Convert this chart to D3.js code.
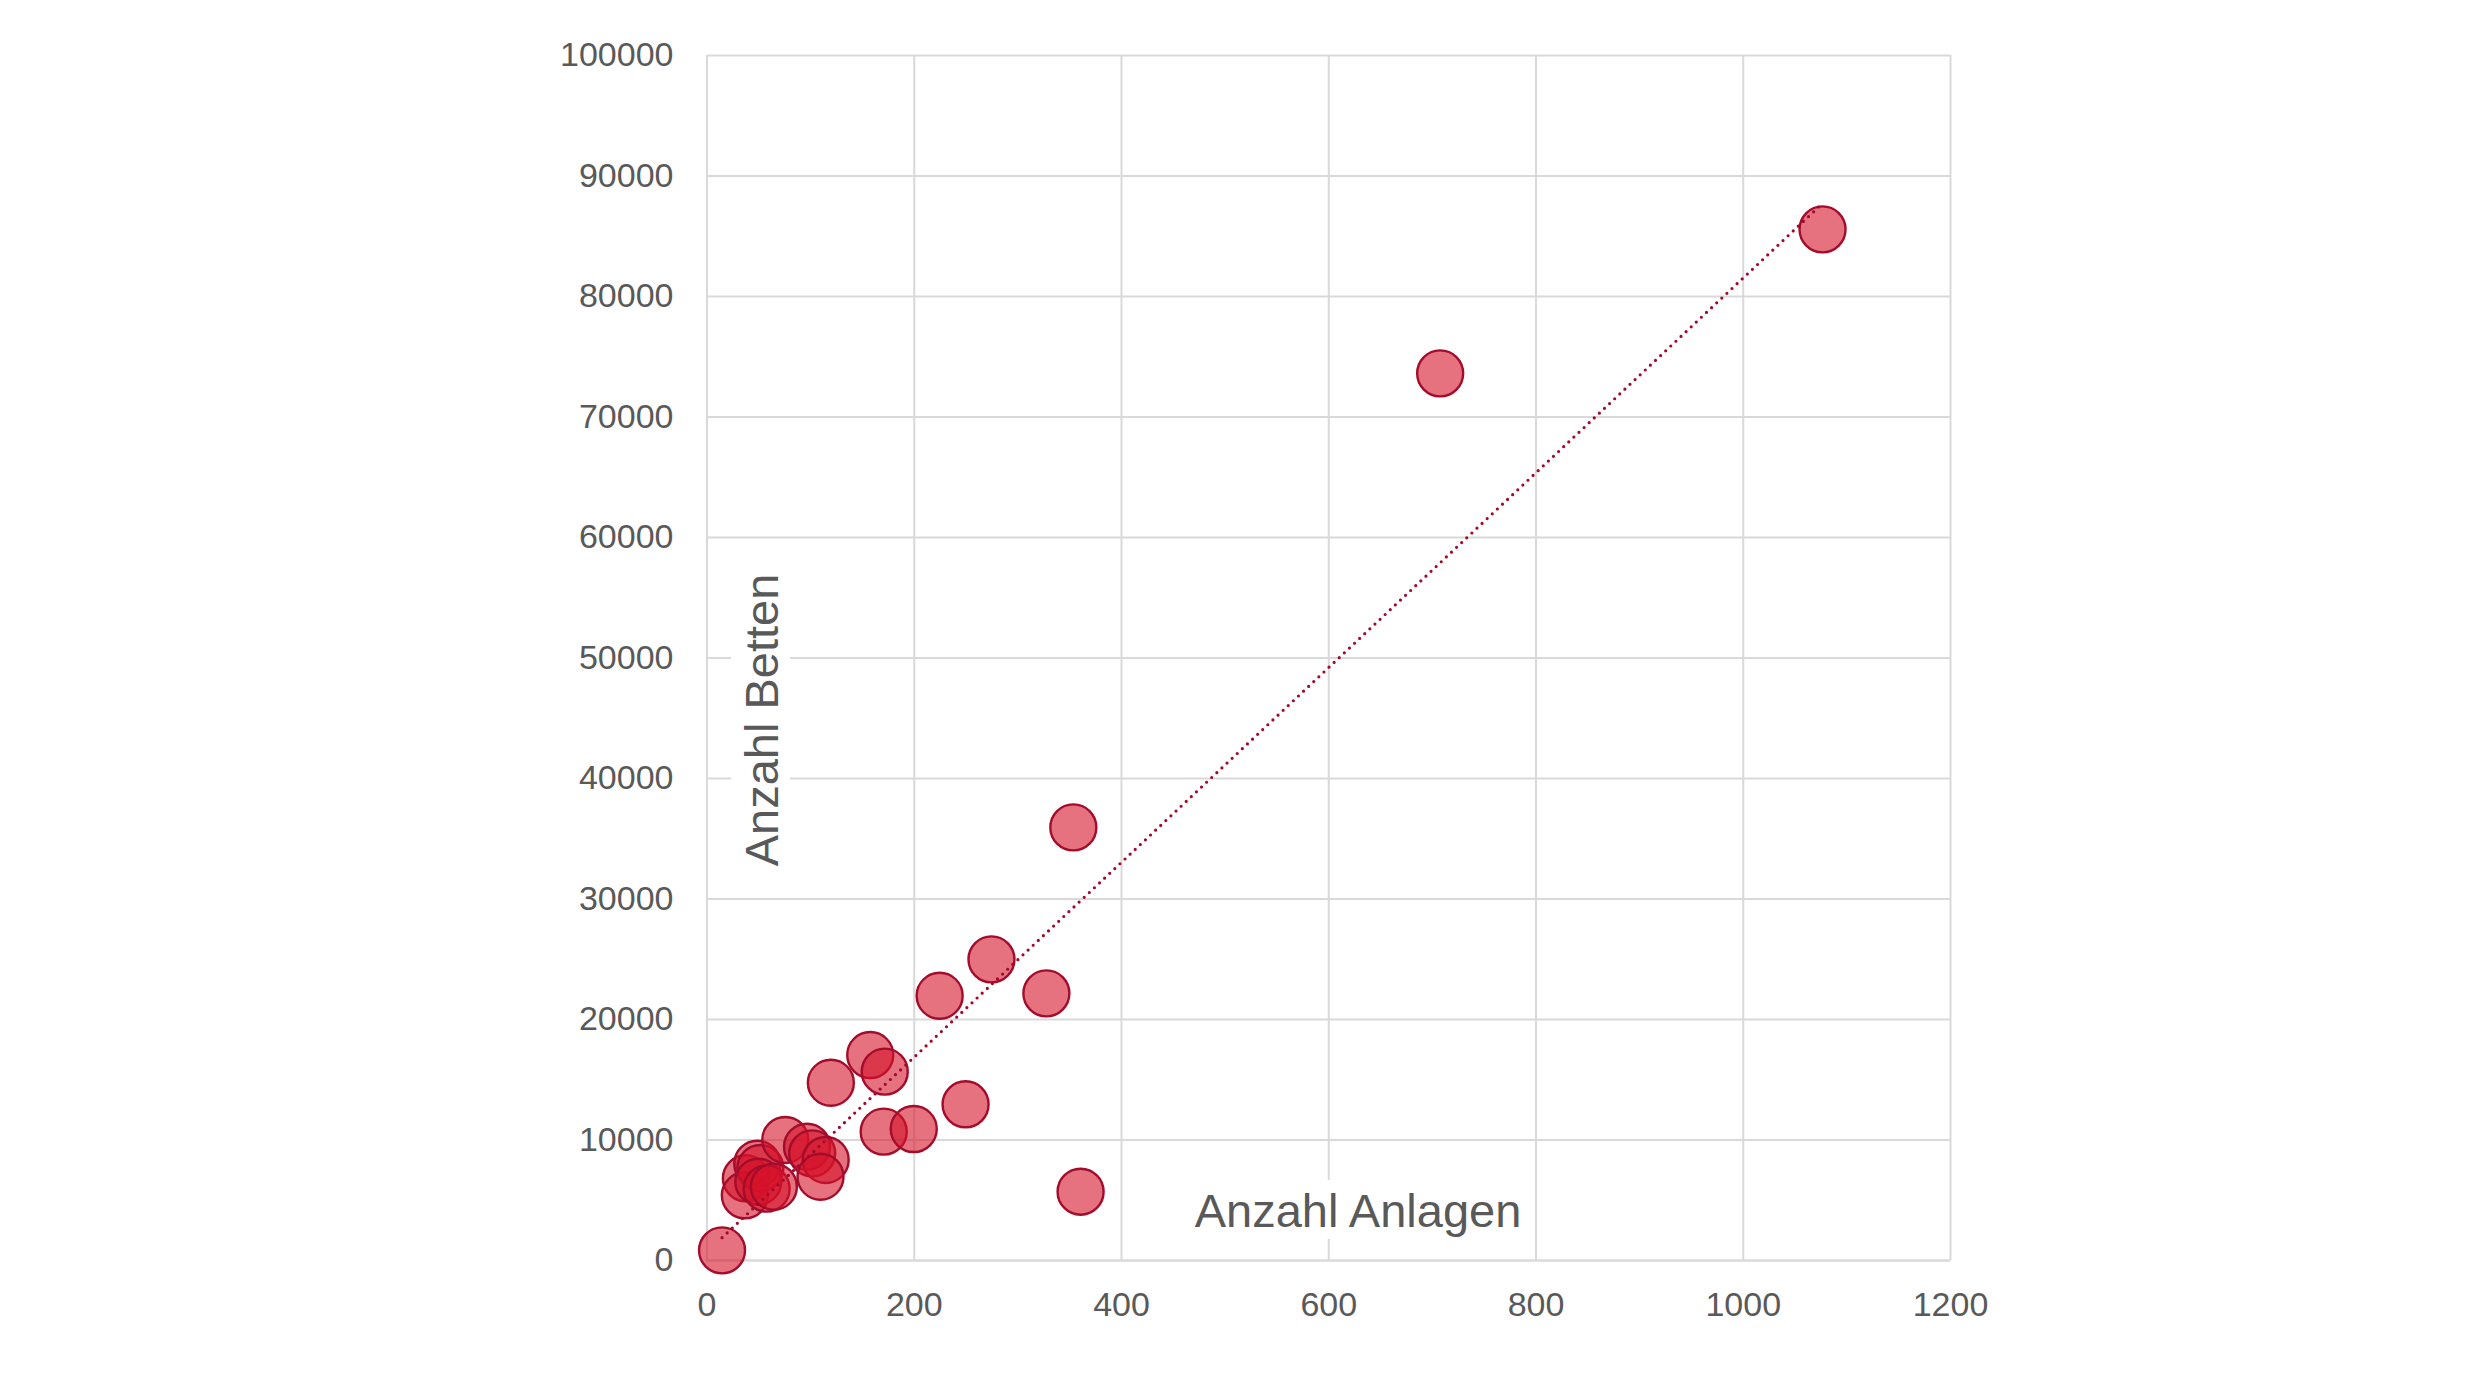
<!DOCTYPE html>
<html>
<head>
<meta charset="utf-8">
<script src="https://cdn.jsdelivr.net/npm/d3@7"></script>
<style>
  body { margin: 0; background: #fff; }
  text { font-family: "Liberation Sans", Arial, sans-serif; }
</style>
</head>
<body>
<svg class="chart_svg"><g class="g_1"></g></svg>
<script>
// Anzahl Anlagen (x) vs Anzahl Betten (y), one value per point
const anlagen = [15, 38, 37, 49, 52, 50, 58, 65, 76, 97, 102, 115, 110, 120, 158, 172, 171, 200, 250, 361, 225, 275, 328, 354, 708, 1077];
const betten = [800, 6780, 5370, 7990, 7630, 6500, 5920, 6080, 9960, 9400, 8850, 8300, 6910, 14710, 17010, 15630, 10650, 10870, 12920, 5670, 21930, 24950, 22130, 35900, 73580, 85530];

const xTicks = [0, 200, 400, 600, 800, 1000, 1200];
const yTicks = [0, 10000, 20000, 30000, 40000, 50000, 60000, 70000, 80000, 90000, 100000];

const xTitle = 'Anzahl Anlagen';
const yTitle = 'Anzahl Betten';

const width = 2480, height = 1395;
const m_left = 706.5, m_right = 1950, m_top = 55, m_bottom = 1260;

var svg = d3.select('.chart_svg')
  .attr('width', width)
  .attr('height', height)
var container = svg.select('.g_1')

var x_scale = d3.scaleLinear().domain([0, 1200]).range([m_left, m_right]);
var y_scale = d3.scaleLinear().domain([0, 100000]).range([m_bottom, m_top]);

// gridlines + tick labels
container.append('g')
  .attr('transform', `translate(0, ${m_bottom})`)
  .call(d3.axisBottom(x_scale).tickValues(xTicks).tickFormat(d3.format('d'))
    .tickSizeInner(-(m_bottom - m_top)).tickSizeOuter(0).tickPadding(32))
container.append('g')
  .attr('transform', `translate(${m_left}, 0)`)
  .call(d3.axisLeft(y_scale).tickValues(yTicks).tickFormat(d3.format('d'))
    .tickSizeInner(-(m_right - m_left)).tickSizeOuter(0).tickPadding(33))

container.selectAll('.domain').attr('stroke', '#d9d9d9').attr('stroke-width', 2)
container.selectAll('.tick line').attr('stroke', '#d9d9d9').attr('stroke-width', 2)
container.selectAll('.tick text')
  .attr('fill', '#595959')
  .attr('font-size', 34)
  .attr('font-family', '"Liberation Sans", Arial, sans-serif')

// axis titles with white boxes behind them
function addTitle(txt, tx, ty, rot) {
  var g = container.append('g').attr('transform', `translate(${tx}, ${ty}) rotate(${rot})`)
  var r = g.append('rect').attr('fill', 'white')
  var t = g.append('text')
    .attr('text-anchor', 'middle')
    .attr('fill', '#595959')
    .attr('font-size', 47)
    .text(txt)
  var bb = t.node().getBBox()
  r.attr('x', bb.x - 8).attr('y', -47).attr('width', bb.width + 16).attr('height', 59)
}
addTitle(xTitle, 1358, 1227, 0)
addTitle(yTitle, 778, 720, -90)

// points
var points = anlagen.map((a, i) => ({ x: a, y: betten[i] }))

container.selectAll('.dot')
  .data(points)
  .enter()
  .append('circle')
  .attr('class', 'dot')
  .attr('cx', d => x_scale(d.x))
  .attr('cy', d => y_scale(d.y))
  .attr('r', 23)
  .attr('fill', '#d5122a')
  .attr('fill-opacity', 0.6)
  .attr('stroke', '#a30d2b')
  .attr('stroke-width', 2.4)

// linear trend line (least squares) from min x to max x
const mx = d3.mean(anlagen), my = d3.mean(betten);
const slope = d3.sum(anlagen, (a, i) => (a - mx) * (betten[i] - my)) / d3.sum(anlagen, a => (a - mx) * (a - mx));
const icpt = my - slope * mx;
const ext = d3.extent(anlagen);

container.append('line')
  .attr('x1', x_scale(ext[0]))
  .attr('y1', y_scale(icpt + slope * ext[0]))
  .attr('x2', x_scale(ext[1]))
  .attr('y2', y_scale(icpt + slope * ext[1]))
  .attr('stroke', '#a0092a')
  .attr('stroke-width', 3.2)
  .attr('stroke-linecap', 'round')
  .attr('stroke-dasharray', '0 7')
</script>
</body>
</html>
